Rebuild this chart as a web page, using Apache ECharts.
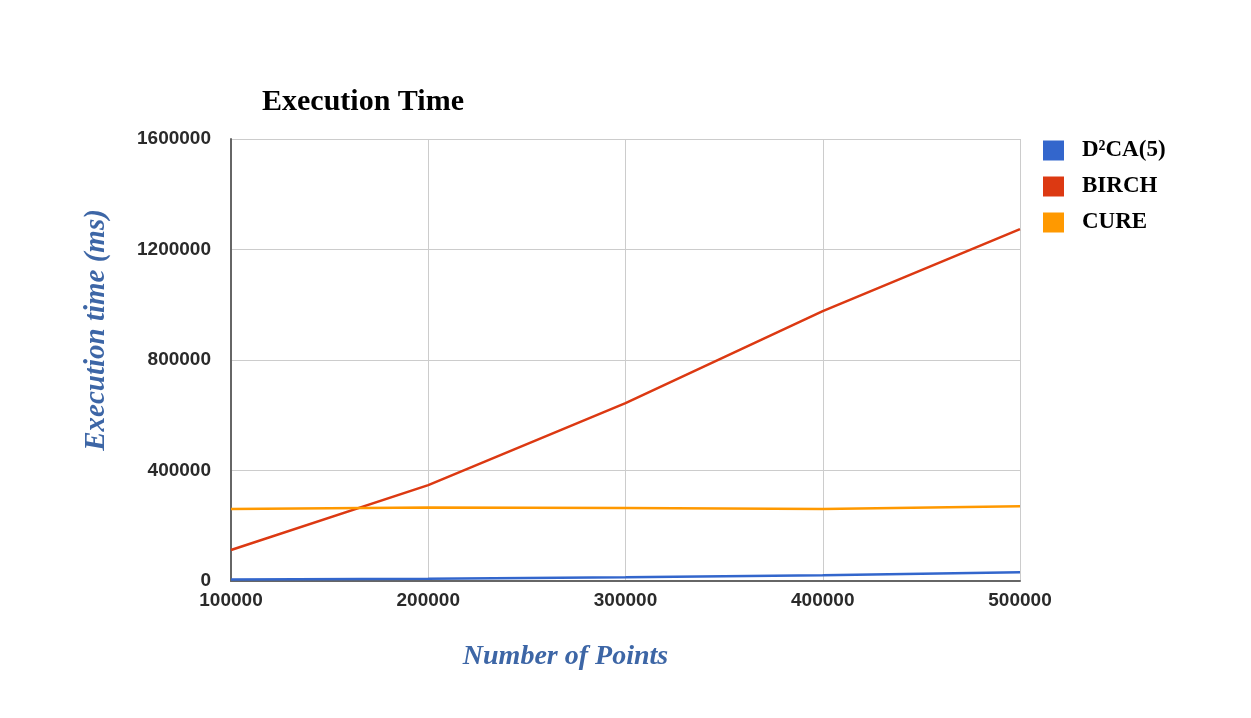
<!DOCTYPE html>
<html>
<head>
<meta charset="utf-8">
<script src="https://cdn.jsdelivr.net/npm/echarts@6/dist/echarts.min.js"></script>
<style>
  html, body { margin: 0; padding: 0; background: #fff; }
  #chart { width: 1251px; height: 718px; }
</style>
</head>
<body>
<div id="chart"></div>
<script>
// values
const points = [100000, 200000, 300000, 400000, 500000];
const d2ca = [5000, 8000, 14000, 21000, 32000];
const birch = [112000, 347000, 644000, 977000, 1274000];
const cure = [261000, 266000, 264000, 261000, 271000];
const seriesNames = ['D\u00b2CA(5)', 'BIRCH', 'CURE'];
const colors = ['#3366cc', '#dc3912', '#ff9900'];

const chart = echarts.init(document.getElementById('chart'));
const pairs = arr => points.map((p, i) => [p, arr[i]]);
const axisLabel = { fontFamily: 'Liberation Sans', fontWeight: 'bold', fontSize: 19, color: '#2a2a2a', formatter: v => String(v) };
const nameStyle = { fontFamily: 'Liberation Serif', fontStyle: 'italic', fontWeight: 'bold', color: '#3d66a6' };

chart.setOption({
  animation: false,
  color: colors,
  title: {
    text: 'Execution Time',
    left: 257, top: 82,
    textStyle: { fontFamily: 'Liberation Serif', fontWeight: 'bold', fontSize: 30, color: '#000' }
  },
  legend: {
    orient: 'vertical',
    left: 1038, top: 134,
    itemWidth: 21, itemHeight: 20, itemGap: 13,
    icon: 'rect',
    data: seriesNames,
    textStyle: { fontFamily: 'Liberation Serif', fontWeight: 'bold', fontSize: 23, color: '#000', padding: [0, 0, 0, 13] }
  },
  grid: { left: 231, right: 231, top: 139, bottom: 137 },
  xAxis: {
    type: 'value', min: 100000, max: 500000, interval: 100000,
    name: 'Number of Points', nameLocation: 'middle', nameGap: 62,
    nameTextStyle: { ...nameStyle, fontSize: 28, padding: [0, 120, 0, 0] },
    axisLine: { lineStyle: { color: '#666', width: 2 } },
    axisTick: { show: false },
    axisLabel: { ...axisLabel, margin: 10 },
    splitLine: { show: true, lineStyle: { color: '#ccc' } }
  },
  yAxis: {
    type: 'value', min: 0, max: 1600000, interval: 400000,
    name: 'Execution time (ms)', nameLocation: 'middle', nameGap: 120,
    nameTextStyle: { ...nameStyle, fontSize: 29, padding: [0, 0, 0, 60] },
    axisLine: { show: true, lineStyle: { color: '#666', width: 2 } },
    axisTick: { show: false },
    axisLabel: { ...axisLabel, margin: 20 },
    splitLine: { lineStyle: { color: '#ccc' } }
  },
  series: [
    { name: seriesNames[0], type: 'line', data: pairs(d2ca), showSymbol: false, lineStyle: { width: 2.5 } },
    { name: seriesNames[1], type: 'line', data: pairs(birch), showSymbol: false, lineStyle: { width: 2.5 } },
    { name: seriesNames[2], type: 'line', data: pairs(cure), showSymbol: false, lineStyle: { width: 2.5 } }
  ]
});
</script>
</body>
</html>
